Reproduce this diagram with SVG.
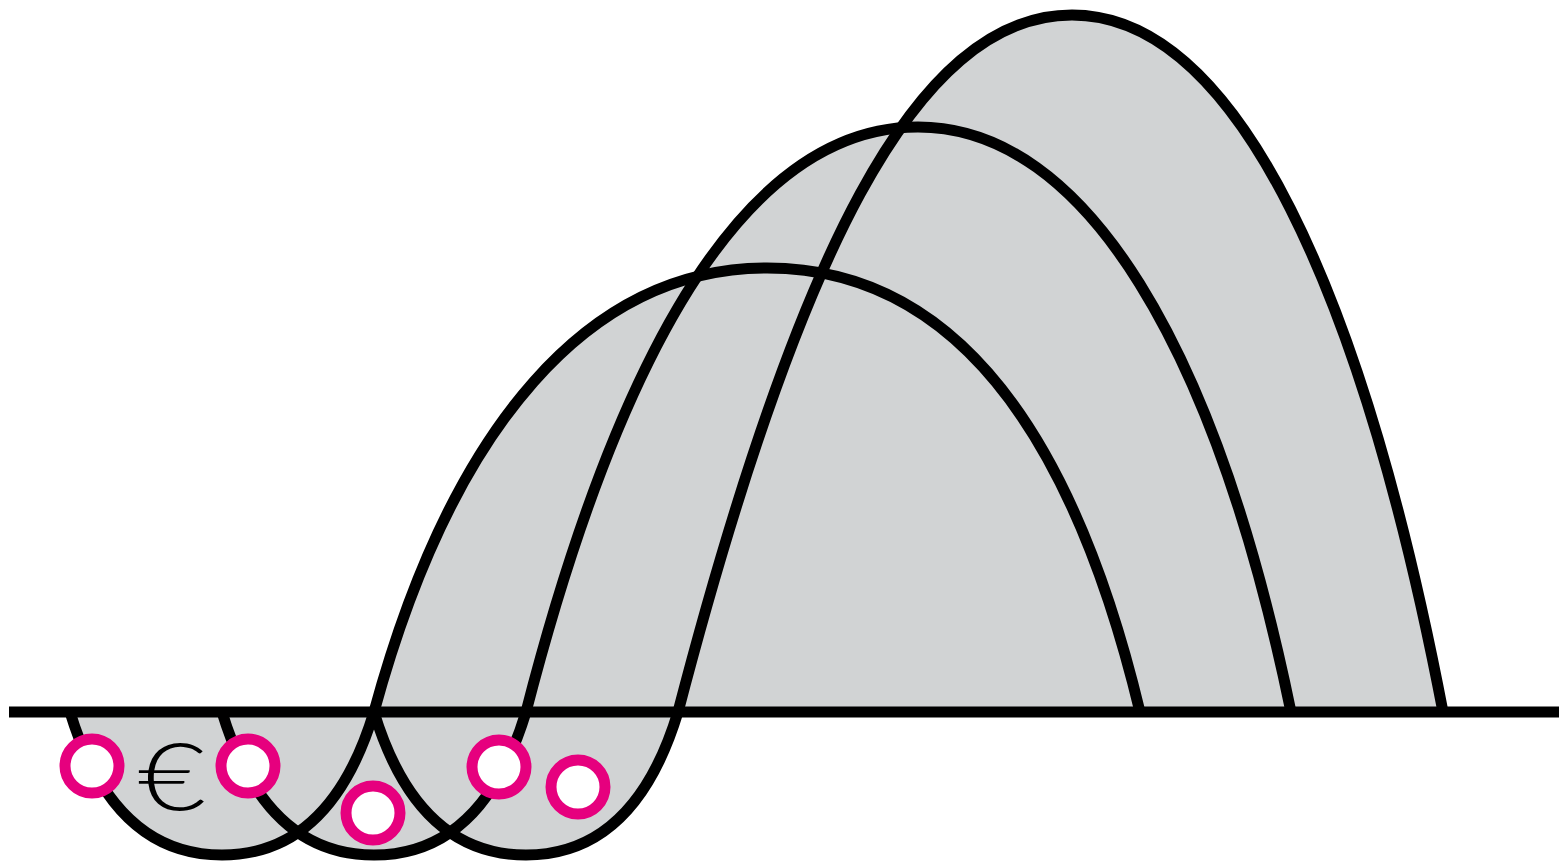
<svg xmlns="http://www.w3.org/2000/svg" width="1559" height="863" viewBox="0 0 1559 863">
  <style>
    .fill { fill: #d1d3d4; stroke: none; }
    .wave { fill: none; stroke: #000; stroke-width: 11; }
    .base { stroke: #000; stroke-width: 11; }
    .ring { fill: #fff; stroke: #e6007e; stroke-width: 11; }
    .euro { font-family: "Lato", "Open Sans", "Liberation Sans", sans-serif; font-weight: 300; font-size: 92px; fill: #000; }
  </style>
  <rect width="1559" height="863" fill="#fff"/>
  <g id="fills">
    <path class="fill" d="M70,712 C100.4,812.1 153.6,855 222,855 C290.4,855 343.6,812.1 374,712 C452.6,423.4 590.1,268 767,268 C934.9,268 1065.4,401.2 1140,712 Z"/>
    <path class="fill" d="M222,712 C252.4,812.1 305.6,855 374,855 C442.4,855 495.6,812.1 526,712 C624,331.7 753.4,127 918,127 C1085.9,127 1216.4,349.3 1291,712 Z"/>
    <path class="fill" d="M374,712 C404.4,812.1 457.6,855 526,855 C594.4,855 647.6,812.1 678,712 C796.2,259 914.4,15 1072,15 C1239,15 1364,300 1443,712 Z"/>
  </g>
  <g id="wave-1">
    <path class="wave" d="M70,712 C100.4,812.1 153.6,855 222,855 C290.4,855 343.6,812.1 374,712 C452.6,423.4 590.1,268 767,268 C934.9,268 1065.4,401.2 1140,712"/>
  </g>
  <g id="wave-2">
    <path class="wave" d="M222,712 C252.4,812.1 305.6,855 374,855 C442.4,855 495.6,812.1 526,712 C624,331.7 753.4,127 918,127 C1085.9,127 1216.4,349.3 1291,712"/>
  </g>
  <g id="wave-3">
    <path class="wave" d="M374,712 C404.4,812.1 457.6,855 526,855 C594.4,855 647.6,812.1 678,712 C796.2,259 914.4,15 1072,15 C1239,15 1364,300 1443,712"/>
  </g>
  <g id="baseline">
    <line class="base" x1="9" y1="712" x2="1559" y2="712"/>
  </g>
  <g id="ring-1"><circle class="ring" cx="92" cy="766" r="27"/></g>
  <g id="ring-2"><circle class="ring" cx="248" cy="766" r="27"/></g>
  <g id="ring-3"><circle class="ring" cx="373" cy="813" r="27"/></g>
  <g id="ring-4"><circle class="ring" cx="499" cy="767" r="27"/></g>
  <g id="ring-5"><circle class="ring" cx="578" cy="787" r="27"/></g>
  <g id="euro-label">
    <text class="euro" x="0" y="810" text-anchor="middle" transform="translate(172,0) scale(1.28,1)">€</text>
  </g>
</svg>
